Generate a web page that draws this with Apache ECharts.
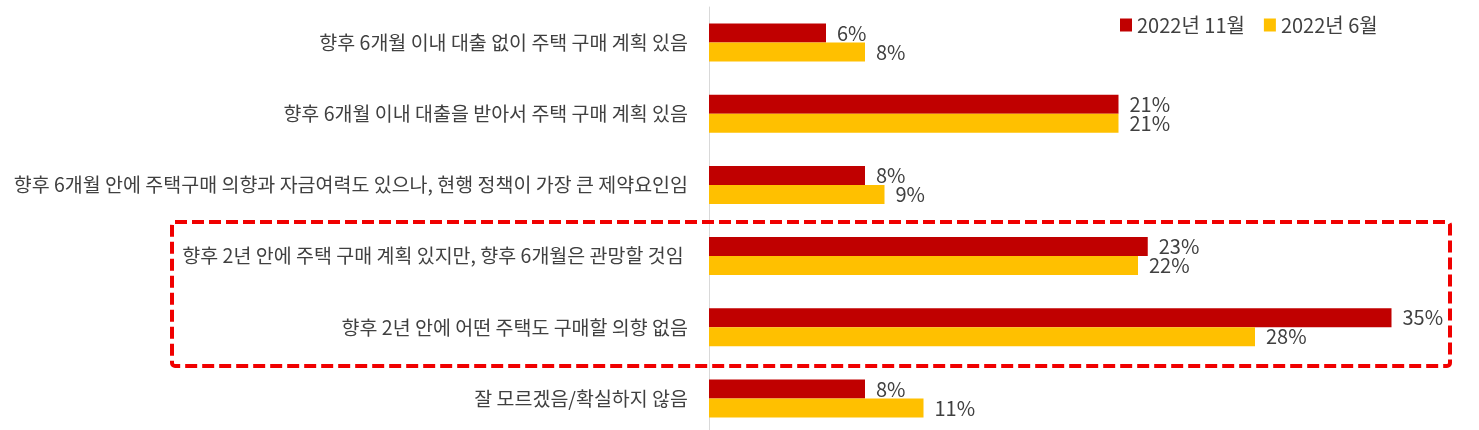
<!DOCTYPE html>
<html>
<head>
<meta charset="utf-8">
<script src="https://cdn.jsdelivr.net/npm/echarts@6/dist/echarts.min.js"></script>
<style>
html,body{margin:0;padding:0;background:#fff;}
#chart{width:1479px;height:430px;}
</style>
</head>
<body>
<div id="chart"></div>
<script>
var categories = [
  '향후 6개월 이내 대출 없이 주택 구매 계획 있음',
  '향후 6개월 이내 대출을 받아서 주택 구매 계획 있음',
  '향후 6개월 안에 주택구매 의향과 자금여력도 있으나, 현행 정책이 가장 큰 제약요인임',
  '향후 2년 안에 주택 구매 계획 있지만, 향후 6개월은 관망할 것임 ',
  '향후 2년 안에 어떤 주택도 구매할 의향 없음',
  '잘 모르겠음/확실하지 않음'
];
var seriesNames = ['2022년 11월', '2022년 6월'];
var nov2022 = [6, 21, 8, 22.5, 35, 8];
var jun2022 = [8, 21, 9, 22, 28, 11];

var FONT = '"Noto Sans CJK KR", "Noto Sans", sans-serif';
var chart = echarts.init(document.getElementById('chart'));
var labelOpt = {
  show: true,
  position: 'right',
  distance: 11,
  fontSize: 20,
  fontFamily: FONT,
  color: '#404040',
  formatter: function (p) { return Math.round(p.value) + '%'; }
};
chart.setOption({
  animation: false,
  backgroundColor: '#fff',
  textStyle: { fontFamily: FONT },
  legend: {
    left: 1115,
    top: 10,
    icon: 'rect',
    itemWidth: 12,
    itemHeight: 13,
    itemGap: 19,
    textStyle: { fontSize: 20, color: '#404040', fontFamily: FONT },
    data: seriesNames
  },
  grid: { left: 709, top: 7, width: 780, height: 427, containLabel: false, outerBoundsMode: 'none' },
  xAxis: {
    type: 'value', min: 0, max: 40, show: false
  },
  yAxis: {
    type: 'category',
    inverse: true,
    data: categories,
    axisLine: { show: true, lineStyle: { color: '#D9D9D9', width: 1 } },
    axisTick: { show: false },
    axisLabel: { fontSize: 19.5, color: '#404040', fontFamily: FONT, margin: 21 }
  },
  series: [
    { name: seriesNames[0], type: 'bar', data: nov2022, barWidth: 19, barGap: '0%',
      itemStyle: { color: '#C00000' }, label: labelOpt },
    { name: seriesNames[1], type: 'bar', data: jun2022, barWidth: 19, barGap: '0%',
      itemStyle: { color: '#FFC000' }, label: labelOpt }
  ],
  graphic: [{
    type: 'rect',
    shape: { x: 172, y: 222, width: 1278, height: 144, r: 3 },
    style: { fill: 'none', stroke: '#F00000', lineWidth: 4, lineDash: [12, 5] },
    z: 100
  }]
});
</script>
</body>
</html>
